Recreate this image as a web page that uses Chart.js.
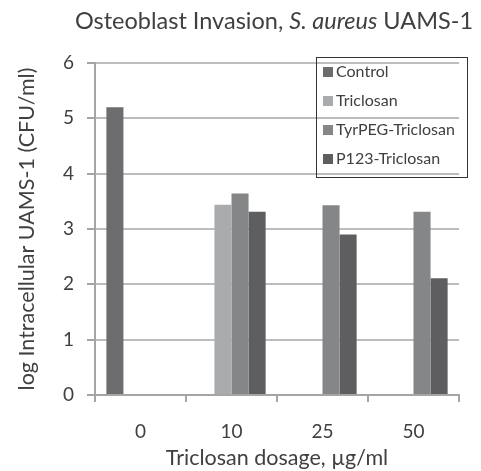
<!DOCTYPE html>
<html>
<head>
<meta charset="utf-8">
<script src="https://cdn.jsdelivr.net/npm/chart.js@4"></script>
<style>
  html, body { margin: 0; padding: 0; background: #fff; }
  #wrap { width: 481px; height: 471px; position: relative; }
</style>
</head>
<body>
<div id="wrap"><canvas id="invasion-chart"></canvas></div>
<script>
const dosages = ['0', '10', '25', '50'];
const seriesNames = ['Control', 'Triclosan', 'TyrPEG-Triclosan', 'P123-Triclosan'];
const controlValues = [5.2, null, null, null];
const triclosanValues = [null, 3.44, null, null];
const tyrpegValues = [null, 3.64, 3.43, 3.31];
const p123Values = [null, 3.31, 2.9, 2.11];
const yTicks = [0, 1, 2, 3, 4, 5, 6];
const barColors = ['#6d6d6f', '#aaabad', '#858688', '#5e5e60'];

const FONT = 'Lato, "Open Sans", sans-serif';
const TEXT = '#404040';

// title with italic species name, drawn by hand since chart.js title is single-style
const titlePlugin = {
    id: 'mixedTitle',
    afterDraw(chart) {
        const ctx = chart.ctx;
        const parts = [
            { t: 'Osteoblast Invasion, ', s: 'normal' },
            { t: 'S. aureus', s: 'italic' },
            { t: ' UAMS-1', s: 'normal' }
        ];
        ctx.save();
        ctx.fillStyle = TEXT;
        ctx.textBaseline = 'middle';
        let total = 0;
        parts.forEach(p => {
            ctx.font = p.s + ' 23.5px ' + FONT;
            p.w = ctx.measureText(p.t).width;
            total += p.w;
        });
        let x = 274 - total / 2;
        parts.forEach(p => {
            ctx.font = p.s + ' 23.5px ' + FONT;
            ctx.textAlign = 'left';
            ctx.fillText(p.t, x, 21);
            x += p.w;
        });
        ctx.restore();
    }
};

// boxed legend sitting inside the plot, like the original
const boxLegend = {
    id: 'boxLegend',
    afterDraw(chart) {
        const ctx = chart.ctx;
        const left = 316, top = 57, right = 467, bottom = 177;
        ctx.save();
        ctx.strokeStyle = '#333';
        ctx.lineWidth = 1;
        ctx.strokeRect(left + 0.5, top + 0.5, right - left, bottom - top);
        ctx.font = '16px ' + FONT;
        ctx.textBaseline = 'middle';
        ctx.textAlign = 'left';
        chart.data.datasets.forEach((ds, i) => {
            const y = 72 + i * 29;
            ctx.fillStyle = ds.backgroundColor;
            ctx.fillRect(left + 7, y - 5, 10, 10);
            ctx.fillStyle = TEXT;
            ctx.fillText(ds.label, left + 20, y);
        });
        ctx.restore();
    }
};

const canvas = document.getElementById('invasion-chart');
new Chart(canvas.getContext('2d'), {
    type: 'bar',
    data: {
        labels: dosages,
        datasets: [
            { label: seriesNames[0], data: controlValues, backgroundColor: barColors[0] },
            { label: seriesNames[1], data: triclosanValues, backgroundColor: barColors[1] },
            { label: seriesNames[2], data: tyrpegValues, backgroundColor: barColors[2] },
            { label: seriesNames[3], data: p123Values, backgroundColor: barColors[3] }
        ]
    },
    options: {
        responsive: true,
        maintainAspectRatio: false,
        animation: false,
        layout: { padding: { left: 0, top: 63, right: 22, bottom: 0 } },
        datasets: { bar: { categoryPercentage: 0.75, barPercentage: 1.0 } },
        plugins: {
            legend: { display: false },
            title: { display: false },
            tooltip: { enabled: false }
        },
        scales: {
            x: {
                afterFit(scale) { scale.height = 76; },
                grid: { drawOnChartArea: false, drawTicks: true, tickLength: 7, color: '#a5a5a5', lineWidth: 2 },
                border: { color: '#a5a5a5', width: 2 },
                ticks: { color: TEXT, font: { family: FONT, size: 19 }, padding: 18 },
                title: { display: true, text: 'Triclosan dosage, µg/ml', color: TEXT, font: { family: FONT, size: 21.5 }, padding: { top: 0, bottom: 0 } }
            },
            y: {
                min: 0,
                max: 6,
                afterFit(scale) { scale.width = 95; },
                afterBuildTicks(scale) { scale.ticks = yTicks.map(v => ({ value: v })); },
                grid: { color: '#bdbdbd', lineWidth: 2, tickLength: 8, tickColor: '#a5a5a5' },
                border: { color: '#a5a5a5', width: 2 },
                ticks: { color: TEXT, font: { family: FONT, size: 19 }, padding: 13 },
                title: { display: true, text: 'log Intracellular UAMS-1 (CFU/ml)', color: TEXT, font: { family: FONT, size: 21.5 }, padding: { top: 14, bottom: 0 } }
            }
        }
    },
    plugins: [titlePlugin, boxLegend]
});
</script>
</body>
</html>
